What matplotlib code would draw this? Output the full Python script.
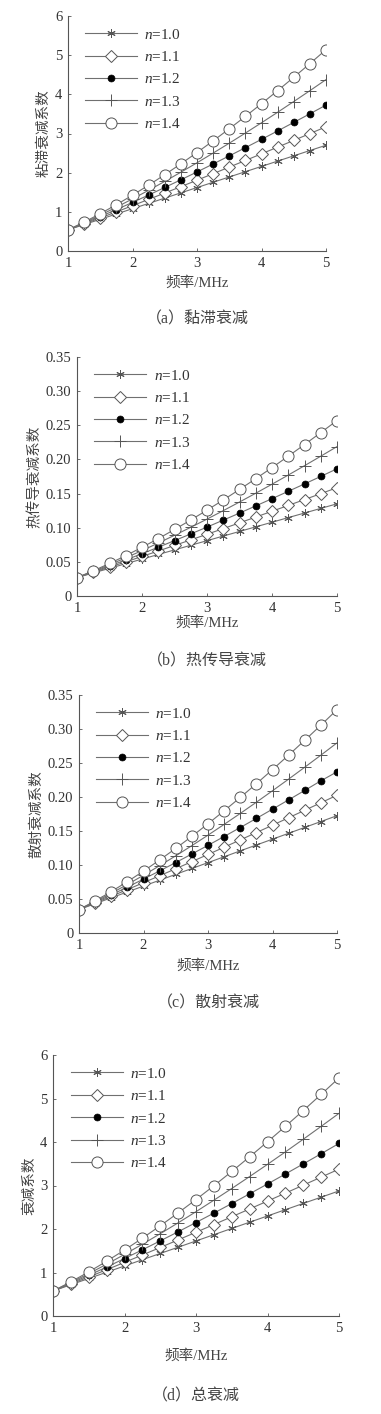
import numpy as np
import matplotlib
matplotlib.use('Agg')
from matplotlib import pyplot as plt

plt.rcParams['font.family'] = ['Liberation Serif', 'Noto Sans CJK SC', 'DejaVu Sans']
plt.rcParams['mathtext.fontset'] = 'custom'
plt.rcParams['mathtext.it'] = 'Liberation Serif:italic'
plt.rcParams['mathtext.rm'] = 'Liberation Serif'

freq = [1.0, 1.25, 1.5, 1.75, 2.0, 2.25, 2.5, 2.75, 3.0, 3.25, 3.5, 3.75, 4.0, 4.25, 4.5, 4.75, 5.0]
n_labels = ['1.0', '1.1', '1.2', '1.3', '1.4']

# (a) viscous
visc_n10 = [0.54, 0.675, 0.81, 0.945, 1.08, 1.215, 1.35, 1.485, 1.62, 1.755, 1.89, 2.025, 2.16, 2.295, 2.43, 2.565, 2.70]
visc_n11 = [0.54, 0.690, 0.844, 0.999, 1.157, 1.318, 1.480, 1.643, 1.808, 1.974, 2.142, 2.311, 2.481, 2.652, 2.824, 2.998, 3.171]
visc_n12 = [0.54, 0.706, 0.878, 1.057, 1.241, 1.429, 1.622, 1.818, 2.018, 2.222, 2.428, 2.638, 2.850, 3.065, 3.283, 3.503, 3.725]
visc_n13 = [0.54, 0.722, 0.915, 1.118, 1.330, 1.550, 1.777, 2.012, 2.252, 2.500, 2.752, 3.011, 3.274, 3.542, 3.816, 4.093, 4.376]
visc_n14 = [0.54, 0.738, 0.953, 1.182, 1.425, 1.681, 1.948, 2.226, 2.514, 2.812, 3.120, 3.436, 3.761, 4.094, 4.435, 4.784, 5.140]

# (b) thermal conduction
therm_n10 = [0.027, 0.0338, 0.0405, 0.0473, 0.054, 0.0608, 0.0675, 0.0743, 0.081, 0.0878, 0.0945, 0.1013, 0.108, 0.1148, 0.1215, 0.1283, 0.135]
therm_n11 = [0.027, 0.0345, 0.0422, 0.0500, 0.0579, 0.0659, 0.0740, 0.0822, 0.0904, 0.0987, 0.1071, 0.1156, 0.1241, 0.1326, 0.1412, 0.1499, 0.1586]
therm_n12 = [0.027, 0.0353, 0.0439, 0.0528, 0.0620, 0.0714, 0.0811, 0.0909, 0.1009, 0.1111, 0.1214, 0.1319, 0.1425, 0.1533, 0.1641, 0.1751, 0.1863]
therm_n13 = [0.027, 0.0361, 0.0457, 0.0559, 0.0665, 0.0775, 0.0889, 0.1006, 0.1126, 0.1250, 0.1376, 0.1505, 0.1637, 0.1771, 0.1908, 0.2047, 0.2188]
therm_n14 = [0.027, 0.0369, 0.0476, 0.0591, 0.0713, 0.0840, 0.0974, 0.1113, 0.1257, 0.1406, 0.1560, 0.1718, 0.1880, 0.2047, 0.2218, 0.2392, 0.2570]

# (c) scattering
scat_n10 = [0.0345, 0.0431, 0.0518, 0.0604, 0.069, 0.0776, 0.0863, 0.0949, 0.1035, 0.1121, 0.1208, 0.1294, 0.138, 0.1466, 0.1553, 0.1639, 0.1725]
scat_n11 = [0.0345, 0.0441, 0.0539, 0.0639, 0.0740, 0.0842, 0.0945, 0.1050, 0.1155, 0.1261, 0.1369, 0.1477, 0.1585, 0.1695, 0.1805, 0.1915, 0.2026]
scat_n12 = [0.0345, 0.0451, 0.0561, 0.0675, 0.0793, 0.0913, 0.1036, 0.1162, 0.1289, 0.1419, 0.1551, 0.1685, 0.1821, 0.1958, 0.2097, 0.2238, 0.2370]
scat_n13 = [0.0345, 0.0461, 0.0584, 0.0714, 0.0849, 0.0990, 0.1135, 0.1285, 0.1439, 0.1597, 0.1758, 0.1923, 0.2092, 0.2263, 0.2438, 0.2615, 0.2796]
scat_n14 = [0.0345, 0.0472, 0.0609, 0.0755, 0.0910, 0.1074, 0.1244, 0.1422, 0.1606, 0.1797, 0.1993, 0.2195, 0.2403, 0.2616, 0.2834, 0.3056, 0.3284]

# (d) total
total_n10 = [0.575, 0.719, 0.863, 1.006, 1.15, 1.294, 1.438, 1.581, 1.725, 1.869, 2.013, 2.156, 2.30, 2.444, 2.588, 2.731, 2.875]
total_n11 = [0.575, 0.735, 0.898, 1.064, 1.233, 1.403, 1.575, 1.750, 1.925, 2.102, 2.281, 2.461, 2.642, 2.824, 3.008, 3.192, 3.377]
total_n12 = [0.575, 0.752, 0.935, 1.125, 1.321, 1.522, 1.727, 1.936, 2.149, 2.366, 2.585, 2.809, 3.035, 3.264, 3.496, 3.730, 3.967]
total_n13 = [0.575, 0.769, 0.974, 1.190, 1.416, 1.650, 1.892, 2.142, 2.398, 2.662, 2.931, 3.206, 3.486, 3.772, 4.063, 4.359, 4.659]
total_n14 = [0.575, 0.786, 1.014, 1.259, 1.517, 1.789, 2.074, 2.370, 2.677, 2.994, 3.322, 3.659, 4.005, 4.359, 4.723, 5.094, 5.473]

W, H = 381, 1414
fig = plt.figure(figsize=(W / 100, H / 100), dpi=100)

# marker styles for n=1.0 ... 1.4
styles = [
    dict(marker=(6, 2, 0), ms=6, mfc='none', mec='#555555', mew=0.7),
    dict(marker='D', ms=6, mfc='white', mec='#555555', mew=0.7),
    dict(marker='o', ms=5, mfc='black', mec='black', mew=0.5),
    dict(marker='+', ms=9, mfc='none', mec='#555555', mew=0.7),
    dict(marker='o', ms=8, mfc='white', mec='#555555', mew=0.7),
]

panels = [
    # series, ylabel, caption, ylim, yticks, ytick labels, axes box px (left, right, top, bottom), xlabel y, caption y
    ([visc_n10, visc_n11, visc_n12, visc_n13, visc_n14], '粘滞衰减系数', '（a）黏滞衰减',
     6, [0, 1, 2, 3, 4, 5, 6], ['0', '1', '2', '3', '4', '5', '6'], (68, 326, 16, 251), 283, 319),
    ([therm_n10, therm_n11, therm_n12, therm_n13, therm_n14], '热传导衰减系数', '（b）热传导衰减',
     0.35, [0, 0.05, 0.10, 0.15, 0.20, 0.25, 0.30, 0.35],
     ['0', '0.05', '0.10', '0.15', '0.20', '0.25', '0.30', '0.35'], (77, 337, 357, 596), 623, 661),
    ([scat_n10, scat_n11, scat_n12, scat_n13, scat_n14], '散射衰减系数', '（c）散射衰减',
     0.35, [0, 0.05, 0.10, 0.15, 0.20, 0.25, 0.30, 0.35],
     ['0', '0.05', '0.10', '0.15', '0.20', '0.25', '0.30', '0.35'], (79, 337, 695, 933), 966, 1003),
    ([total_n10, total_n11, total_n12, total_n13, total_n14], '衰减系数', '（d）总衰减',
     6, [0, 1, 2, 3, 4, 5, 6], ['0', '1', '2', '3', '4', '5', '6'], (53, 339, 1055, 1316), 1356, 1396),
]

for series, ylab, cap, ymax, yt, ytl, box, xl_y, cap_y in panels:
    l, r, t, b = box
    ax = fig.add_axes([l / W, 1 - b / H, (r - l) / W, (b - t) / H])
    for vals, lab, st in zip(series, n_labels, styles):
        ax.plot(freq, vals, color='#707070', lw=0.8, label='$n$=' + lab, **st)
    ax.set_xlim(1, 5)
    ax.set_ylim(0, ymax)
    ax.set_xticks([1, 2, 3, 4, 5])
    ax.set_yticks(yt)
    ax.set_yticklabels(ytl)
    ax.spines['top'].set_visible(False)
    ax.spines['right'].set_visible(False)
    for s in ['left', 'bottom']:
        ax.spines[s].set_color('#555555')
        ax.spines[s].set_linewidth(0.8)
    ax.tick_params(direction='in', length=2.5, width=0.6, colors='#555555',
                   labelcolor='#333333', labelsize=10.5, pad=4)
    ax.set_ylabel(ylab, fontsize=10.5, color='#444444', labelpad=3)
    fig.text((l + r) / 2 / W, 1 - xl_y / H, '频率/MHz', fontsize=10.5, color='#444444',
             ha='center', va='center')
    fig.text((l + r) / 2 / W, 1 - cap_y / H, cap, fontsize=11.5, color='#444444',
             fontweight='medium', ha='center', va='center')
    ax.legend(loc='upper left', bbox_to_anchor=(0.03, 0.99), frameon=False, fontsize=11,
              handlelength=3.4, labelspacing=0.55, borderaxespad=0.2, handletextpad=0.5,
              labelcolor='#333333')

fig.savefig('out.png', dpi=100)
